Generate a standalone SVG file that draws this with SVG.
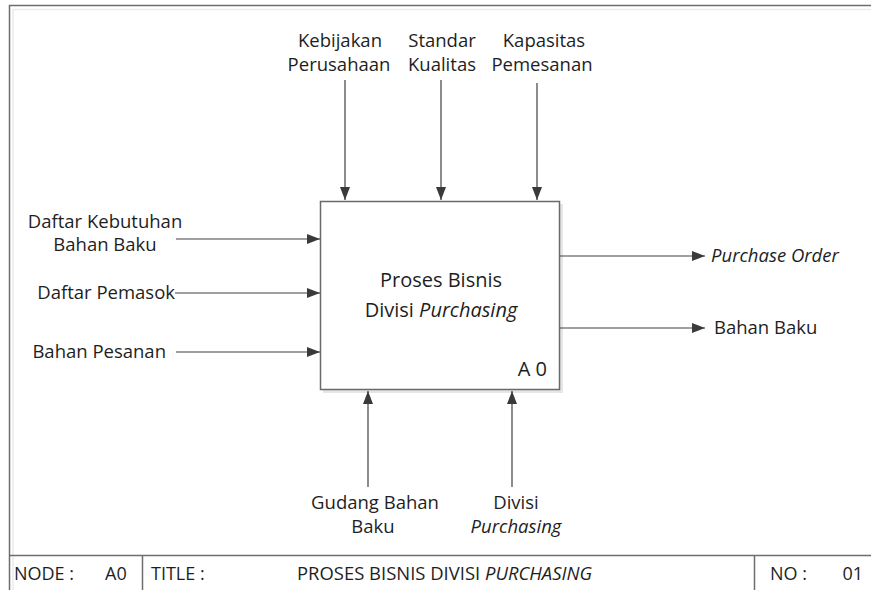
<svg xmlns="http://www.w3.org/2000/svg" width="871" height="590" viewBox="0 0 871 590">
<style>
text{font-family:"Open Sans","Noto Sans","Liberation Sans",sans-serif;fill:#1e1e1e;font-size:18.5px}
.c{text-anchor:middle}
.e{text-anchor:end}
.i{font-style:italic}
.b{font-size:20px}
.f{font-size:18px}
.ln{stroke:#404040;stroke-width:1.2;fill:none}
.sh{stroke:#ececec;stroke-width:1.5;fill:none}
.fr{stroke:#6e6e6e;stroke-width:1.5;fill:none}
</style>
<defs>
<marker id="ah" viewBox="0 0 13 10" refX="13" refY="5" markerWidth="13" markerHeight="10" markerUnits="userSpaceOnUse" orient="auto">
<path d="M0,0 L13,5 L0,10 Z" fill="#3a3a3a"/>
</marker>
</defs>
<rect x="0" y="0" width="871" height="590" fill="#ffffff"/>
<g id="frame">
<path class="sh" d="M13,600 V9.5 H880"/>
<path class="fr" d="M9.5,600 V5.5 H880"/>
<path class="fr" d="M9.5,555.5 H880 M142.5,555.5 V600 M754.5,555.5 V600" stroke-width="1.2"/>
</g>
<g id="A0">
<rect x="323" y="204" width="240" height="189" fill="#e6e6e6"/>
<rect x="320.5" y="201.5" width="239" height="188" fill="#ffffff" stroke="#6a6a6a" stroke-width="1.5"/>
<text class="c b" x="441" y="287">Proses Bisnis</text>
<text class="c b" x="441" y="317">Divisi <tspan class="i">Purchasing</tspan></text>
<text class="e b" x="547" y="376">A 0</text>
</g>
<g id="connectors">
<path class="ln" d="M345,80 V200" marker-end="url(#ah)"/>
<path class="ln" d="M441,80 V200" marker-end="url(#ah)"/>
<path class="ln" d="M537,83 V200" marker-end="url(#ah)"/>
<path class="ln" d="M176,239 H320" marker-end="url(#ah)"/>
<path class="ln" d="M175,293 H320" marker-end="url(#ah)"/>
<path class="ln" d="M176,352 H320" marker-end="url(#ah)"/>
<path class="ln" d="M560,256 H705" marker-end="url(#ah)"/>
<path class="ln" d="M560,328 H705" marker-end="url(#ah)"/>
<path class="ln" d="M368,487 V391" marker-end="url(#ah)"/>
<path class="ln" d="M512,487 V391" marker-end="url(#ah)"/>
</g>
<g id="kebijakan">
<text class="c" x="340" y="47">Kebijakan</text>
<text class="c" x="339" y="71">Perusahaan</text>
</g>
<g id="standar">
<text class="c" x="442" y="47">Standar</text>
<text class="c" x="442" y="71">Kualitas</text>
</g>
<g id="kapasitas">
<text class="c" x="544" y="47">Kapasitas</text>
<text class="c" x="542" y="71">Pemesanan</text>
</g>
<g id="daftar-kebutuhan">
<text class="c" x="105" y="228">Daftar Kebutuhan</text>
<text class="c" x="105" y="251">Bahan Baku</text>
</g>
<g id="daftar-pemasok">
<text class="e" x="175" y="299">Daftar Pemasok</text>
</g>
<g id="bahan-pesanan">
<text class="e" x="166" y="358">Bahan Pesanan</text>
</g>
<g id="purchase-order">
<text class="i" x="711" y="262">Purchase Order</text>
</g>
<g id="bahan-baku">
<text x="714" y="334">Bahan Baku</text>
</g>
<g id="gudang">
<text class="c" x="375" y="509">Gudang Bahan</text>
<text class="c" x="373" y="533">Baku</text>
</g>
<g id="divisi">
<text class="c" x="516" y="509">Divisi</text>
<text class="c i" x="516" y="533">Purchasing</text>
</g>
<g id="titlebar">
<text class="f" x="14" y="580">NODE :</text>
<text class="f" x="105" y="580">A0</text>
<text class="f" x="151" y="580">TITLE :</text>
<text class="f" x="297" y="580" textLength="295" lengthAdjust="spacingAndGlyphs">PROSES BISNIS DIVISI <tspan class="i">PURCHASING</tspan></text>
<text class="f" x="770" y="580">NO :</text>
<text class="f e" x="863" y="580">01</text>
</g>
</svg>
